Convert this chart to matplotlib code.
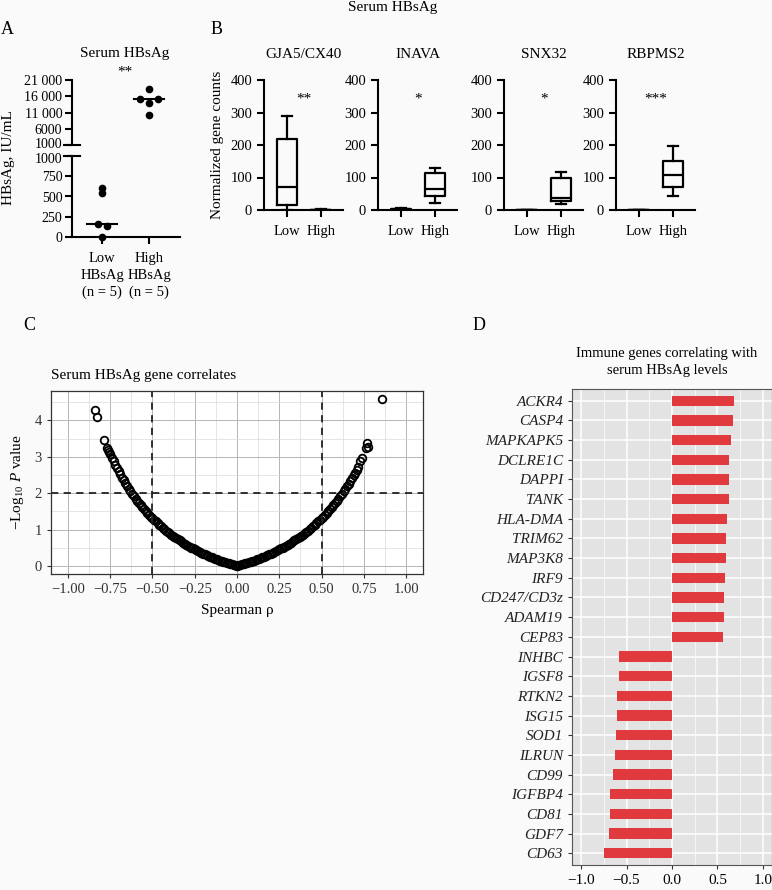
import numpy as np
import matplotlib
matplotlib.use('Agg')
import matplotlib.pyplot as plt
from matplotlib.ticker import MultipleLocator
from matplotlib.transforms import ScaledTranslation

W, H = 772, 890
plt.rcParams['font.family'] = ['Liberation Serif', 'DejaVu Serif']
plt.rcParams['mathtext.fontset'] = 'custom'
plt.rcParams['mathtext.rm'] = 'Liberation Serif'
plt.rcParams['mathtext.it'] = 'Liberation Serif:italic'

# ---- panel A data ----
groups_a = ['Low\nHBsAg\n(n = 5)', 'High\nHBsAg\n(n = 5)']
low_hbsag = [600, 540, 160, 132, 5]
high_hbsag = [18200, 15150, 15150, 14000, 10100]
top_ticks_a = [1000, 6000, 11000, 16000, 21000]
top_labels_a = ['1000', '6000', '11 000', '16 000', '21 000']
bottom_ticks_a = [0, 250, 500, 750, 1000]

# ---- panel B data (box stats) ----
genes_b = ['GJA5/CX40', 'INAVA', 'SNX32', 'RBPMS2']
stars_b = ['**', '*', '*', '***']
low_whislo = [0, 0, 0, 0]
low_q1 = [16, 1, 0, 0]
low_med = [71, 2, 0.5, 0.5]
low_q3 = [217, 3, 1, 1]
low_whishi = [289, 5, 1, 1]
high_whislo = [0, 22, 20, 44]
high_q1 = [0.5, 44, 28, 70]
high_med = [1, 65, 37, 107]
high_q3 = [1.5, 114, 97, 152]
high_whishi = [2, 130, 118, 198]

# ---- panel C data (Spearman rho vs -log10 P) ----
rho_abs = [0.00, 0.01, 0.02, 0.03, 0.04, 0.05, 0.06, 0.07, 0.08, 0.09,
           0.10, 0.11, 0.12, 0.13, 0.14, 0.15, 0.16, 0.17, 0.18, 0.19,
           0.20, 0.21, 0.22, 0.23, 0.24, 0.25, 0.26, 0.27, 0.28, 0.29,
           0.30, 0.31, 0.32, 0.33, 0.34, 0.35, 0.36, 0.37, 0.38, 0.39,
           0.40, 0.41, 0.42, 0.43, 0.44, 0.45, 0.46, 0.47, 0.48, 0.49,
           0.50, 0.51, 0.52, 0.53, 0.54, 0.55, 0.56, 0.57, 0.58, 0.59,
           0.60, 0.61, 0.62, 0.63, 0.64, 0.65, 0.66, 0.67, 0.68, 0.69,
           0.70, 0.71]
logp_left = [0.0, 0.014, 0.028, 0.042, 0.056, 0.070, 0.085, 0.100, 0.115, 0.131,
             0.147, 0.163, 0.180, 0.198, 0.217, 0.237, 0.256, 0.276, 0.297, 0.318,
             0.339, 0.361, 0.384, 0.408, 0.432, 0.456, 0.482, 0.508, 0.534, 0.560,
             0.587, 0.616, 0.645, 0.675, 0.705, 0.735, 0.766, 0.798, 0.830, 0.865,
             0.900, 0.937, 0.975, 1.015, 1.055, 1.097, 1.140, 1.182, 1.225, 1.267,
             1.31, 1.36, 1.41, 1.46, 1.51, 1.56, 1.615, 1.67, 1.73, 1.79,
             1.85, 1.915, 1.98, 2.05, 2.12, 2.19, 2.27, 2.35, 2.43, 2.515,
             2.60, 2.69]
logp_right = [0.0, 0.014, 0.028, 0.042, 0.056, 0.070, 0.085, 0.100, 0.115, 0.131,
              0.147, 0.163, 0.180, 0.198, 0.217, 0.237, 0.256, 0.276, 0.297, 0.318,
              0.339, 0.361, 0.384, 0.408, 0.432, 0.456, 0.482, 0.508, 0.534, 0.560,
              0.587, 0.616, 0.645, 0.675, 0.705, 0.735, 0.766, 0.798, 0.830, 0.865,
              0.900, 0.937, 0.975, 1.015, 1.055, 1.097, 1.140, 1.182, 1.225, 1.267,
              1.31, 1.36, 1.41, 1.46, 1.51, 1.56, 1.615, 1.67, 1.73, 1.79,
              1.85, 1.915, 1.98, 2.05, 2.12, 2.19, 2.26, 2.33, 2.41, 2.49,
              2.56, 2.65]
# separate points at the tails
tail_rho_left = [-0.72, -0.73, -0.74, -0.75, -0.755, -0.76, -0.766, -0.784, -0.828, -0.84]
tail_logp_left = [2.78, 2.88, 2.98, 3.09, 3.14, 3.18, 3.23, 3.45, 4.10, 4.29]
tail_rho_right = [0.717, 0.73, 0.738, 0.762, 0.77, 0.774, 0.855]
tail_logp_right = [2.72, 2.89, 2.96, 3.23, 3.37, 3.27, 4.58]

# ---- panel D data ----
genes_d = ['ACKR4', 'CASP4', 'MAPKAPK5', 'DCLRE1C', 'DAPPI', 'TANK', 'HLA-DMA',
           'TRIM62', 'MAP3K8', 'IRF9', 'CD247/CD3z', 'ADAM19', 'CEP83',
           'INHBC', 'IGSF8', 'RTKN2', 'ISG15', 'SOD1', 'ILRUN', 'CD99',
           'IGFBP4', 'CD81', 'GDF7', 'CD63']
rho_d = [0.681, 0.667, 0.652, 0.630, 0.623, 0.623, 0.608, 0.597, 0.594, 0.579,
         0.572, 0.572, 0.565, -0.587, -0.587, -0.601, -0.608, -0.616, -0.627,
         -0.648, -0.681, -0.685, -0.689, -0.750]


def box(l, t, r, b):
    return [l / W, 1 - b / H, (r - l) / W, (b - t) / H]


def ftext(x, y, s, **kw):
    fig.text(x / W, 1 - y / H, s, **kw)


fig = plt.figure(figsize=(W / 100, H / 100), dpi=100)
fig.patch.set_facecolor('#fafafa')

# ================= Panel A =================
ftext(1, 30, 'A', fontsize=13, va='center', ha='left')
ftext(125, 53, 'Serum HBsAg', fontsize=11, ha='center', va='center')
ftext(125, 72, '**', fontsize=11, ha='center', va='center')

axt = fig.add_axes(box(72, 80, 180, 145))
axb = fig.add_axes(box(72, 156, 180, 237))
jitter_low = [0, 0, -0.09, 0.11, 0]
jitter_high = [0, -0.2, 0.2, 0, 0]
for ax in (axt, axb):
    ax.set_facecolor('none')
    ax.set_xlim(-0.64, 1.66)
    for s in ('top', 'right'):
        ax.spines[s].set_visible(False)
    ax.spines['left'].set_linewidth(1.5)
    ax.spines['bottom'].set_linewidth(1.5)
    ax.tick_params(width=1.5, length=5, labelsize=10, pad=2)

# low group lives on the lower segment, high group on the upper one
axb.plot([j for j in jitter_low], low_hbsag, 'o', color='black', ms=4.5, clip_on=False)
m = np.median(low_hbsag)
axb.plot([-0.31, 0.31], [m, m], color='black', lw=1.5)
axt.plot([1 + j for j in jitter_high], high_hbsag, 'o', color='black', ms=4.5, clip_on=False)
m = np.median(high_hbsag)
axt.plot([0.69, 1.31], [m, m], color='black', lw=1.5)

axt.set_ylim(1000, 21000)
axt.set_yticks(top_ticks_a)
axt.set_yticklabels(top_labels_a)
axt.spines['bottom'].set_visible(False)
axt.set_xticks([])
axt.plot([-0.07, 0.07], [0, 0], color='black', lw=1.5, transform=axt.transAxes, clip_on=False)
axb.set_ylim(0, 1000)
axb.set_yticks(bottom_ticks_a)
axb.plot([-0.07, 0.07], [1, 1], color='black', lw=1.5, transform=axb.transAxes, clip_on=False)
axb.set_xticks([0, 1])
axb.set_xticklabels(groups_a, linespacing=1.35, fontsize=10.5)
axb.tick_params(axis='x', pad=6)
# nudge the two "1000" labels at the break apart a little
lab = axt.get_yticklabels()[0]
lab.set_transform(lab.get_transform() + ScaledTranslation(0, 2.5 / 100, fig.dpi_scale_trans))
lab = axb.get_yticklabels()[-1]
lab.set_transform(lab.get_transform() + ScaledTranslation(0, -2.5 / 100, fig.dpi_scale_trans))
ftext(9, 158, 'HBsAg, IU/mL', fontsize=11, rotation=90, ha='center', va='center')

# ================= Panel B =================
ftext(393, 8, 'Serum HBsAg', fontsize=11, ha='center', va='center')
ftext(211, 30, 'B', fontsize=13, va='center', ha='left')
b_lefts = [264, 378, 504, 616]
for k, g in enumerate(genes_b):
    ax = fig.add_axes(box(b_lefts[k], 80, b_lefts[k] + 79, 210))
    ax.set_facecolor('none')
    stats = [
        dict(whislo=low_whislo[k], q1=low_q1[k], med=low_med[k], q3=low_q3[k],
             whishi=low_whishi[k], fliers=[]),
        dict(whislo=high_whislo[k], q1=high_q1[k], med=high_med[k], q3=high_q3[k],
             whishi=high_whishi[k], fliers=[]),
    ]
    lp = dict(color='black', lw=1.6)
    ax.bxp(stats, positions=[0, 1], widths=0.6, boxprops=lp, medianprops=lp,
           whiskerprops=lp, capprops=lp, showfliers=False)
    ax.set_xlim(-0.68, 1.65)
    ax.set_ylim(0, 400)
    ax.set_yticks([0, 100, 200, 300, 400])
    ax.set_xticks([0, 1])
    ax.set_xticklabels(['Low', 'High'])
    for s in ('top', 'right'):
        ax.spines[s].set_visible(False)
    ax.spines['left'].set_linewidth(1.5)
    ax.spines['bottom'].set_linewidth(1.5)
    ax.tick_params(width=1.5, length=5, labelsize=10.5)
    ax.tick_params(axis='x', pad=6)
    ax.set_title(g, fontsize=11, pad=16)
    ax.text(0.5, 340, stars_b[k], fontsize=11, ha='center', va='center')
ftext(217, 145, 'Normalized gene counts', fontsize=11, rotation=90, ha='center', va='center')

# ================= Panel C =================
ftext(23, 325, 'C', fontsize=13, va='center', ha='left')
axc = fig.add_axes(box(51, 391, 423, 574))
axc.set_facecolor('white')
axc.set_xlim(-1.1, 1.1)
axc.set_ylim(-0.22, 4.81)
axc.xaxis.set_major_locator(MultipleLocator(0.25))
axc.xaxis.set_minor_locator(MultipleLocator(0.125))
axc.yaxis.set_major_locator(MultipleLocator(1))
axc.yaxis.set_minor_locator(MultipleLocator(0.5))
axc.grid(which='major', color='#b4b4b4', lw=0.7)
axc.grid(which='minor', color='#dadada', lw=0.5)
axc.set_axisbelow(True)
axc.tick_params(which='minor', length=0)
axc.tick_params(which='major', length=3, color='#333333', labelsize=10.5, labelcolor='#333333')
xt = np.arange(-1.0, 1.01, 0.25)
axc.set_xticks(xt)
axc.set_xticklabels([f'{v:.2f}'.replace('-', '\u2212') for v in xt])
for s in axc.spines.values():
    s.set_color('#333333')
    s.set_linewidth(0.9)
mk = dict(ls='none', marker='o', mfc='none', mec='black', ms=5.5, mew=1.3)
axc.plot([-r for r in rho_abs], logp_left, **mk)
axc.plot(rho_abs, logp_right, **mk)
axc.plot(tail_rho_left, tail_logp_left, **mk)
axc.plot(tail_rho_right, tail_logp_right, **mk)
for xv in (-0.5, 0.5):
    axc.axvline(xv, color='#222222', lw=1.3, ls=(0, (4, 3)))
axc.axhline(2, color='#222222', lw=1.3, ls=(0, (4, 3)))
ftext(51, 375, 'Serum HBsAg gene correlates', fontsize=11, ha='left', va='center')
axc.set_xlabel('Spearman \u03c1', fontsize=11, labelpad=6)
axc.set_ylabel('\u2212Log$_{10}$ $P$ value', fontsize=11, labelpad=6)

# ================= Panel D =================
ftext(473, 326, 'D', fontsize=13, va='center', ha='left')
axd = fig.add_axes(box(572, 389, 772, 865))
axd.set_facecolor('#e3e3e3')
n = len(genes_d)
ypos = np.arange(n, 0, -1)
axd.barh(ypos, rho_d, height=0.52, color='#e03a3f', zorder=3)
axd.set_xlim(-1.1, 1.1)
axd.set_ylim(0.4, n + 0.6)
axd.set_yticks(ypos)
axd.set_yticklabels(genes_d, fontstyle='italic', fontsize=11, color='#222222')
axd.set_xticks([-1.0, -0.5, 0.0, 0.5, 1.0])
axd.set_xticklabels(['\u22121.0', '\u22120.5', '0.0', '0.5', '1.0'])
axd.xaxis.set_minor_locator(MultipleLocator(0.25))
axd.grid(which='major', color='white', lw=1.1)
axd.grid(which='minor', axis='x', color='white', lw=0.5)
axd.set_axisbelow(True)
axd.tick_params(which='minor', length=0)
axd.tick_params(which='major', length=3, color='#333333', labelsize=11)
axd.tick_params(axis='y', labelsize=11)
for s in axd.spines.values():
    s.set_color('#555555')
    s.set_linewidth(0.8)
ftext(667, 362, 'Immune genes correlating with\nserum HBsAg levels', fontsize=10.5,
      ha='center', va='center', linespacing=1.4)

fig.savefig('out.png', dpi=100, facecolor=fig.get_facecolor())
